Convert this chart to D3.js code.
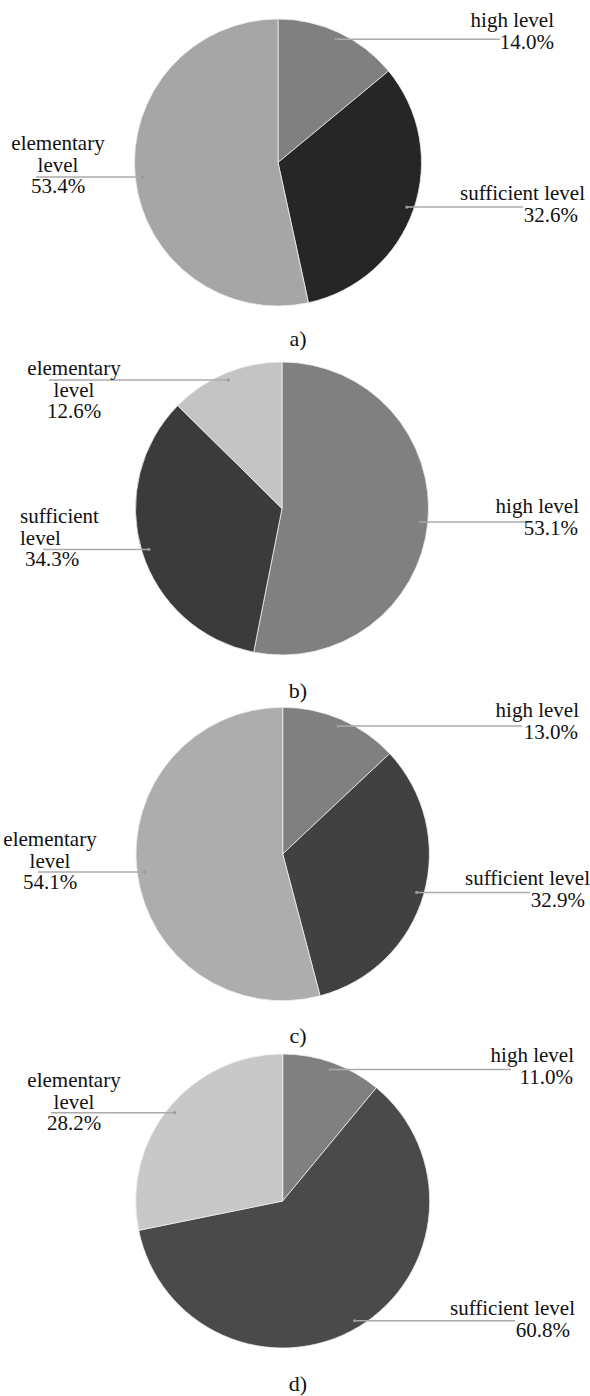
<!DOCTYPE html>
<html>
<head>
<meta charset="utf-8">
<script src="https://cdn.jsdelivr.net/npm/d3@7"></script>
</head>
<body style="margin:0;background:#fff">
<svg width="590" height="1396" style="display:block"></svg>
<script>
// data
var categories = ["high level", "sufficient level", "elementary level"];
var panelNames = ["a)", "b)", "c)", "d)"];
var valuesA = [14.0, 32.6, 53.4];
var valuesB = [53.1, 34.3, 12.6];
var valuesC = [13.0, 32.9, 54.1];
var valuesD = [11.0, 60.8, 28.2];
var panelValues = [valuesA, valuesB, valuesC, valuesD];

// grey tones per panel, in category order
var panelColors = [
  ["#808080", "#262626", "#a6a6a6"],
  ["#808080", "#3b3b3b", "#c4c4c4"],
  ["#808080", "#414141", "#adadad"],
  ["#808080", "#4a4a4a", "#c8c8c8"]
];

// where each pie and its labels sit
var layout = [
  { cx: 278, cy: 162.5, r: 143.5, capY: 346, labels: [
    { wrap: false, anchor: "end", xs: [554, 554], y0: 27, end: 500 },
    { wrap: false, anchor: "end", xs: [585, 578], y0: 200, end: 523 },
    { wrap: true, anchor: "middle", xs: [58, 58, 58], y0: 150, end: 36 } ] },
  { cx: 282, cy: 508.5, r: 146.5, capY: 698, labels: [
    { wrap: false, anchor: "end", xs: [579, 578], y0: 513, end: 526 },
    { wrap: true, anchor: "start", xs: [20, 20, 25], y0: 523, end: 43 },
    { wrap: true, anchor: "middle", xs: [74, 74, 74], y0: 375, end: 49 } ] },
  { cx: 282.7, cy: 854, r: 146.7, capY: 1043, labels: [
    { wrap: false, anchor: "end", xs: [579, 578], y0: 717, end: 522 },
    { wrap: false, anchor: "end", xs: [590, 585], y0: 885, end: 530 },
    { wrap: true, anchor: "middle", xs: [50, 50, 50], y0: 846, end: 38 } ] },
  { cx: 282.7, cy: 1201, r: 147, capY: 1391, labels: [
    { wrap: false, anchor: "end", xs: [574, 573], y0: 1062, end: 511 },
    { wrap: false, anchor: "end", xs: [575, 570], y0: 1315, end: 515 },
    { wrap: true, anchor: "middle", xs: [74, 74, 74], y0: 1087, end: 51 } ] }
];

var lineH = 21.5;
var svg = d3.select("svg");

var pie = d3.pie().sort(null).value(function(d) { return d.value; });

panelValues.forEach(function(vals, p) {
  var L = layout[p];
  var data = vals.map(function(v, i) { return { name: categories[i], value: v, i: i }; });
  var arcs = pie(data);
  var arc = d3.arc().innerRadius(0).outerRadius(L.r);
  var leadArc = d3.arc().innerRadius(L.r * 0.95).outerRadius(L.r * 0.95);

  var g = svg.append("g")
      .attr("transform", "translate(" + L.cx + "," + L.cy + ")");

  g.selectAll("path.slice")
      .data(arcs)
      .enter()
      .append("path")
      .attr("class", "slice")
      .attr("d", arc)
      .attr("fill", function(d) { return panelColors[p][d.data.i]; })
      .attr("stroke", "#eeeeee")
      .attr("stroke-width", 0.8);

  // leader lines + labels
  arcs.forEach(function(d) {
    var lab = L.labels[d.data.i];
    var c = leadArc.centroid(d);
    var px = L.cx + c[0], py = L.cy + c[1];

    svg.append("line")
        .attr("x1", px).attr("y1", py)
        .attr("x2", lab.end).attr("y2", py)
        .attr("stroke", "#ababab")
        .attr("stroke-width", 1.5);
    svg.append("circle")
        .attr("cx", px).attr("cy", py).attr("r", 1.6)
        .attr("fill", "#9a9a9a");

    var lines = lab.wrap ? d.data.name.split(" ") : [d.data.name];
    lines = lines.concat([d.data.value.toFixed(1) + "%"]);

    svg.append("g").selectAll("text")
        .data(lines)
        .enter()
        .append("text")
        .text(function(t) { return t; })
        .attr("x", function(t, k) { return lab.xs[k]; })
        .attr("y", function(t, k) { return lab.y0 + k * lineH; })
        .attr("text-anchor", lab.anchor)
        .attr("font-family", "Liberation Serif")
        .attr("font-size", 21)
        .attr("fill", "#111");
  });

  svg.append("text")
      .text(panelNames[p])
      .attr("x", 298)
      .attr("y", L.capY)
      .attr("text-anchor", "middle")
      .attr("font-family", "Liberation Serif")
      .attr("font-size", 22)
      .attr("fill", "#111");
});
</script>
</body>
</html>
